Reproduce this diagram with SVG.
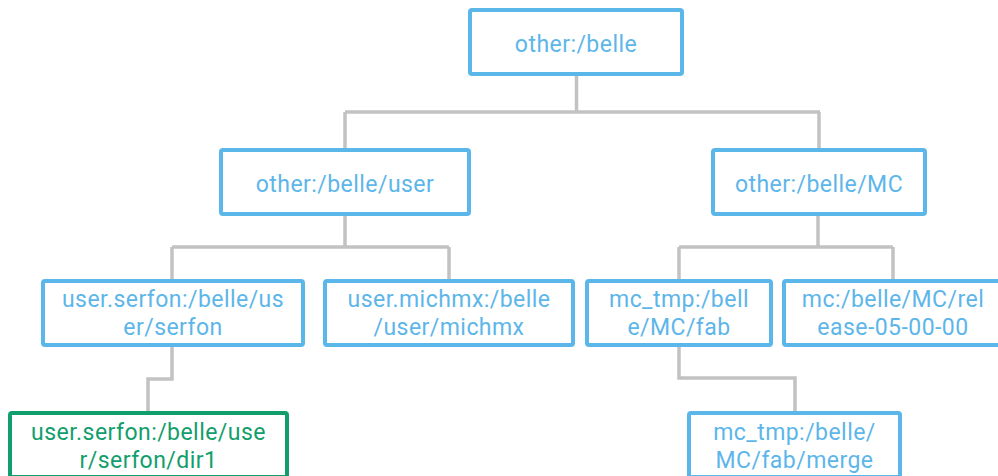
<svg xmlns="http://www.w3.org/2000/svg" width="998" height="476" viewBox="0 0 998 476">
<style>
.box{fill:#fff;stroke:#5bb6e9;stroke-width:4}
.gbox{fill:#fff;stroke:#129e6c;stroke-width:4}
.t{font-family:Roboto,"Liberation Sans",sans-serif;font-size:23px;letter-spacing:0.45px;fill:#5db6e9;text-anchor:middle}
.g{fill:#129e6c}
.c{fill:none;stroke:#c2c2c2;stroke-width:3.5}
</style>
<rect width="998" height="476" fill="#fff"/>
<g id="connectors">
<path class="c" d="M576.5 76V112M345 112H820M345 112V148M819 112V148"/>
<path class="c" d="M345 216V247M172 247H449M172 247V279M449 247V279"/>
<path class="c" d="M818 216V247M679 247H893M679 247V279M893 247V279"/>
<path class="c" d="M172 347V379H148V411"/>
<path class="c" d="M679 347V378H795V411"/>
</g>
<g id="root"><rect class="box" x="470" y="10" width="212" height="64" rx="2"/><text class="t" x="576" y="52">other:/belle</text></g>
<g id="user"><rect class="box" x="221" y="150" width="248" height="64" rx="2"/><text class="t" x="345" y="192">other:/belle/user</text></g>
<g id="mc"><rect class="box" x="713" y="150" width="212" height="64" rx="2"/><text class="t" x="819" y="192">other:/belle/MC</text></g>
<g id="serfon"><rect class="box" x="43" y="281" width="260" height="64" rx="2"/><text class="t" x="173" y="307">user.serfon:/belle/us</text><text class="t" x="173" y="335">er/serfon</text></g>
<g id="michmx"><rect class="box" x="325" y="281" width="248" height="64" rx="2"/><text class="t" x="449" y="307">user.michmx:/belle</text><text class="t" x="449" y="335">/user/michmx</text></g>
<g id="fab"><rect class="box" x="587" y="281" width="184" height="64" rx="2"/><text class="t" x="679" y="307">mc_tmp:/bell</text><text class="t" x="679" y="335">e/MC/fab</text></g>
<g id="release"><rect class="box" x="784" y="281" width="218" height="64" rx="2"/><text class="t" x="893" y="307">mc:/belle/MC/rel</text><text class="t" x="893" y="335">ease-05-00-00</text></g>
<g id="dir1"><rect class="gbox" x="10" y="413" width="277" height="64" rx="2"/><text class="t g" x="148.5" y="440">user.serfon:/belle/use</text><text class="t g" x="148.5" y="468">r/serfon/dir1</text></g>
<g id="merge"><rect class="box" x="689" y="413" width="211" height="64" rx="2"/><text class="t" x="794.5" y="440">mc_tmp:/belle/</text><text class="t" x="794.5" y="468">MC/fab/merge</text></g>
</svg>
